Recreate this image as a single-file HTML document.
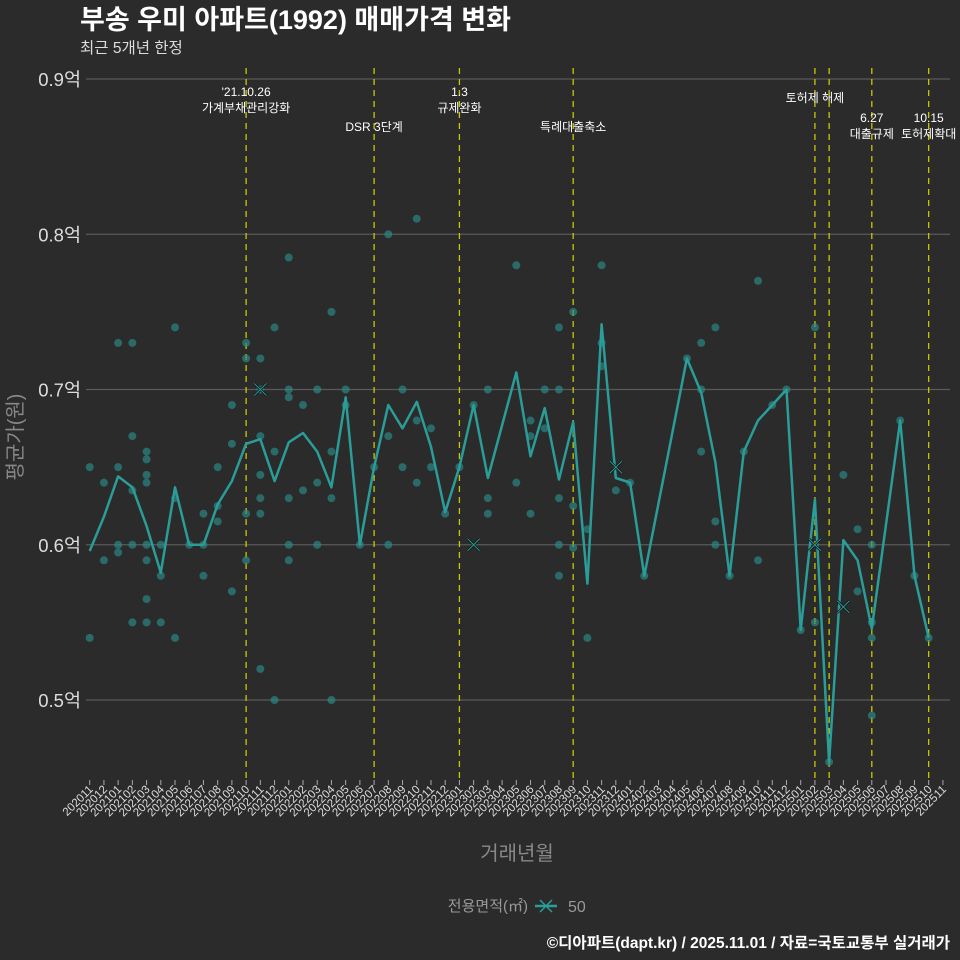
<!DOCTYPE html>
<html><head><meta charset="utf-8"><style>
html,body{margin:0;padding:0;background:#2b2b2b;}
svg{display:block;font-family:"Liberation Sans","Noto Sans CJK KR",sans-serif;}
</style></head><body>
<svg id="chart" width="960" height="960" viewBox="0 0 960 960">
<rect width="960" height="960" fill="#2b2b2b"/>
<text x="80" y="29" fill="#fff" font-size="27" font-weight="bold">부송 우미 아파트(1992) 매매가격 변화</text>
<text x="80" y="53" fill="#ddd" font-size="15.5">최근 5개년 한정</text>
<g id="grid"></g><g id="vlines"></g><g id="marks"></g><g id="xaxis"></g>
<text transform="translate(22,437) rotate(-90)" text-anchor="middle" fill="#888" font-size="20">평균가(원)</text>
<text x="517" y="860" text-anchor="middle" fill="#888" font-size="20">거래년월</text>
<g>
<text x="528" y="911" text-anchor="end" fill="#999" font-size="15">전용면적(㎡)</text>
<line x1="535" y1="906" x2="557" y2="906" stroke="#2a9d99" stroke-width="2.5"/>
<path d="M540 900 L552 912 M552 900 L540 912" stroke="#2a9d99" stroke-width="1.5"/>
<text x="568" y="912" fill="#999" font-size="16">50</text>
</g>
<text x="950" y="948" text-anchor="end" fill="#fff" font-size="15.5" font-weight="bold">©디아파트(dapt.kr) / 2025.11.01 / 자료=국토교통부 실거래가</text>
</svg>
<script>
const months = [];
for (let y = 2020, m = 11; months.length < 61; ) { months.push(y + String(m).padStart(2,'0')); m++; if (m > 12) { m = 1; y++; } }
const yTicks = [0.5, 0.6, 0.7, 0.8, 0.9];
const yTickLabels = ['0.5억','0.6억','0.7억','0.8억','0.9억'];
const avgPrice = [0.596,0.618,0.644,0.637,0.612,0.582,0.637,0.600,0.600,0.626,0.641,0.665,0.668,0.641,0.666,0.672,0.660,0.637,0.695,0.600,0.650,0.690,0.675,0.692,0.663,0.621,0.650,0.690,0.643,null,0.711,0.657,0.688,0.642,0.679,0.575,0.742,0.643,0.640,0.580,null,null,0.720,0.698,0.653,0.580,0.660,0.680,0.690,0.700,0.545,0.629,0.460,0.603,0.590,0.546,null,0.680,0.580,0.540,null];
const dealIdx = [0,0,1,1,2,2,2,2,3,3,3,3,3,4,4,4,4,4,4,4,4,5,5,5,6,6,6,7,8,8,8,9,9,9,10,10,10,11,11,11,11,12,12,12,12,12,12,12,13,13,13,14,14,14,14,14,14,15,15,16,16,16,17,17,17,17,18,18,19,20,21,21,21,22,22,23,23,23,24,24,25,26,27,28,28,28,30,30,31,31,31,32,32,33,33,33,33,33,34,34,34,35,35,36,36,36,37,38,39,42,43,43,43,44,44,44,45,46,47,47,48,49,50,51,51,52,53,54,54,55,55,55,55,57,58,59];
const dealPrice = [0.65,0.54,0.64,0.59,0.73,0.65,0.60,0.595,0.73,0.67,0.635,0.60,0.55,0.66,0.655,0.645,0.64,0.60,0.59,0.565,0.55,0.60,0.58,0.55,0.74,0.63,0.54,0.60,0.62,0.60,0.58,0.65,0.625,0.615,0.69,0.665,0.57,0.73,0.72,0.62,0.59,0.72,0.70,0.67,0.645,0.63,0.62,0.52,0.74,0.66,0.50,0.70,0.695,0.63,0.60,0.59,0.785,0.69,0.635,0.70,0.64,0.60,0.75,0.66,0.63,0.50,0.70,0.69,0.60,0.65,0.67,0.60,0.80,0.70,0.65,0.68,0.64,0.81,0.675,0.65,0.62,0.65,0.69,0.70,0.63,0.62,0.64,0.78,0.68,0.67,0.62,0.70,0.675,0.74,0.70,0.63,0.60,0.58,0.75,0.625,0.598,0.61,0.54,0.73,0.715,0.78,0.635,0.64,0.58,0.72,0.73,0.70,0.66,0.74,0.615,0.60,0.58,0.66,0.59,0.77,0.69,0.70,0.545,0.74,0.55,0.46,0.645,0.61,0.57,0.60,0.55,0.54,0.49,0.68,0.58,0.54];
const bigIdx = [12,27,37,51,53];
const bigPrice = [0.70,0.60,0.65,0.60,0.56];
const eventIdx = [11,20,26,34,51,52,55,59];
const eventLabels = [["'21.10.26","가계부채관리강화"],["DSR 3단계"],["1.3","규제완화"],["특례대출축소"],["토허제 해제"],[],["6.27","대출규제"],["10.15","토허제확대"]];
const eventLabelY = [92,127,92,127,98,0,118,118];

const NS='http://www.w3.org/2000/svg';
const X = i => 89.7 + 14.22*i;
const Y = v => 700 - (v-0.5)*1552.5;
function mk(tag, attrs, parent){ const e=document.createElementNS(NS,tag); for(const k in attrs) e.setAttribute(k,attrs[k]); parent.appendChild(e); return e; }
const grid=document.getElementById('grid'), vl=document.getElementById('vlines'), marks=document.getElementById('marks'), xa=document.getElementById('xaxis');
yTicks.forEach((t,k)=>{
  const l=mk('line',{x1:86,x2:950,y1:Y(t),y2:Y(t),stroke:'#5a5a5a','stroke-width':1.2},grid);
  
  
  const tx=mk('text',{x:81,y:Y(t)+7,'text-anchor':'end',fill:'#ddd','font-size':18.5},grid);
  tx.textContent=yTickLabels[k];
  
  
});
eventIdx.forEach((i,k)=>{
  const l=mk('line',{x1:X(i),x2:X(i),y1:68,y2:782,stroke:'#c8c800','stroke-width':1.3,'stroke-dasharray':'6 5'},vl);
  
  
  eventLabels[k].forEach((s,j)=>{
    const t=mk('text',{x:X(i),y:eventLabelY[k]+j*16+4,'text-anchor':'middle',fill:'#fff','font-size':12},vl);
    t.textContent=s;
    
    
  });
});
dealIdx.forEach((i,k)=>{
  const c=mk('circle',{cx:X(i),cy:Y(dealPrice[k]),r:4,fill:'#2a8c88','fill-opacity':0.65},marks);
  
  
});
let d='', pen=false;
avgPrice.forEach((v,i)=>{ if(v==null) return; d+=(pen?'L':'M')+X(i).toFixed(1)+' '+Y(v).toFixed(1)+' '; pen=true; });
const p=mk('path',{d:d,fill:'none',stroke:'#2a9d99','stroke-width':2.5,'stroke-linejoin':'round'},marks);


bigIdx.forEach((i,k)=>{
  const x=X(i), y=Y(bigPrice[k]);
  const g=mk('path',{d:`M${x-6} ${y-6} L${x+6} ${y+6} M${x+6} ${y-6} L${x-6} ${y+6}`,stroke:'#111','stroke-width':2.5},marks);
  
  
  const g2=mk('path',{d:`M${x-6} ${y-6} L${x+6} ${y+6} M${x+6} ${y-6} L${x-6} ${y+6}`,stroke:'#2a9d99','stroke-width':1},marks);
  
  
});
months.forEach((m,i)=>{
  const t=mk('line',{x1:X(i),x2:X(i),y1:780,y2:785,stroke:'#aaa','stroke-width':1},xa);
  
  
  const tx=mk('text',{transform:`translate(${X(i)+4},${790}) rotate(-45)`,'text-anchor':'end',fill:'#ddd','font-size':11.5},xa);
  tx.textContent=m;
  
  
});
</script>
</body></html>
